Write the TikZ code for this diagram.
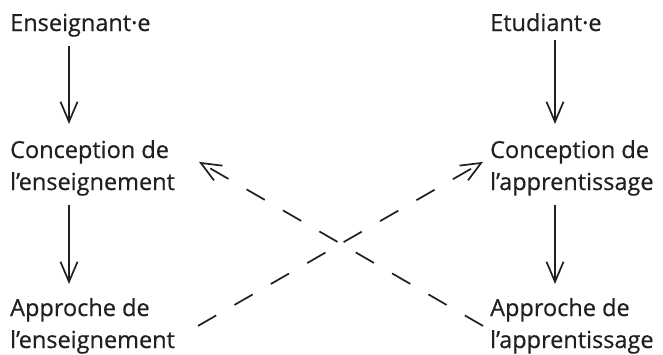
\documentclass[tikz,border=0pt]{standalone}
\usepackage{fontspec}
\setmainfont{Open Sans}[FakeBold=0.5]
\usetikzlibrary{arrows.meta}
\definecolor{encre}{HTML}{231F20}
\begin{document}
\begin{tikzpicture}[x=1pt, y=-1pt, color=encre]
    \tikzstyle{etiquette}=[anchor=base west, align=left, inner sep=0pt, font=\fontsize{23.5}{32}\selectfont]
    \tikzstyle{fleche}=[line width=1.7pt, -{Straight Barb[length=20pt, width=17pt]}, shorten <=9pt, shorten >=16pt]
    \tikzstyle{tirets}=[line width=1.7pt, -{Straight Barb[length=20pt, width=17pt]}, dash pattern=on 21pt off 21pt]
    \useasboundingbox (0,0) rectangle (663,354);
    \coordinate (colG) at (69,0);
    \coordinate (colD) at (555,0);
    % colonne enseignant
    \node[etiquette] (ens) at (10,31) {Enseignant·e};
    \node[etiquette] (concE) at (10,190) {Conception de\\l’enseignement};
    \node[etiquette] (appE) at (10,348) {Approche de\\l’enseignement};
    % colonne etudiant
    \node[etiquette] (etu) at (490,31) {Etudiant·e};
    \node[etiquette] (concA) at (490,190) {Conception de\\l’apprentissage};
    \node[etiquette] (appA) at (490,348) {Approche de\\l’apprentissage};
    % fleches verticales
    \draw[fleche] (ens.south -| colG) -- (concE.north -| colG);
    \draw[fleche, shorten >=14pt] (concE.south -| colG) -- (appE.north -| colG);
    \draw[fleche] (etu.south -| colD) -- (concA.north -| colD);
    \draw[fleche, shorten >=14pt] (concA.south -| colD) -- (appA.north -| colD);
    % fleches croisees
    \draw[tirets] ([xshift=188pt]appE.west) -- ([shift={(-7pt,6pt)}]concA.west);
    \draw[tirets] ([xshift=-7pt]appA.west) -- ([shift={(189pt,6pt)}]concE.west);
\end{tikzpicture}
\end{document}
